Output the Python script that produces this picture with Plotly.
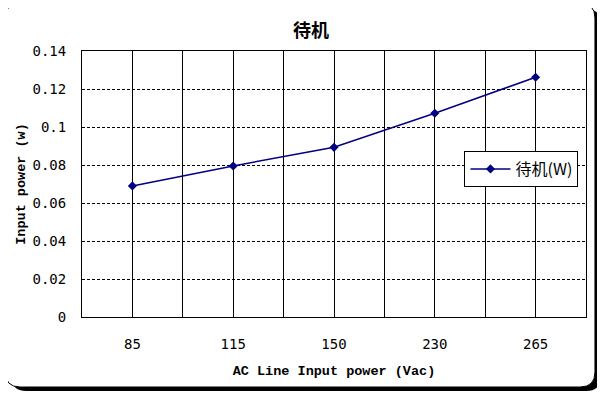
import plotly.graph_objects as go

# ---- data ----
categories = ["85", "115", "150", "230", "265"]
standby_w = [0.069, 0.0795, 0.0893, 0.1072, 0.1262]
series_name = "待机(W)"
chart_title = "待机"
x_title = "AC Line Input power (Vac)"
y_title = "Input power (w)"
y_ticks = [0, 0.02, 0.04, 0.06, 0.08, 0.1, 0.12, 0.14]

OFF = 8  # default body margin of the page
W, H = 605, 393
L, R, T, B = 80, 586, 51, 317
PW, PH = R - L, B - T


def px(x):
    return (x - L) / PW


def py(y):
    return (B - y) / PH


def rrect(x0, y0, x1, y1, r):
    return (
        f"M {px(x0 + r)},{py(y0)} L {px(x1 - r)},{py(y0)} "
        f"Q {px(x1)},{py(y0)} {px(x1)},{py(y0 + r)} "
        f"L {px(x1)},{py(y1 - r)} Q {px(x1)},{py(y1)} {px(x1 - r)},{py(y1)} "
        f"L {px(x0 + r)},{py(y1)} Q {px(x0)},{py(y1)} {px(x0)},{py(y1 - r)} "
        f"L {px(x0)},{py(y0 + r)} Q {px(x0)},{py(y0)} {px(x0 + r)},{py(y0)} Z"
    )


idx = list(range(len(categories)))

fig = go.Figure()
fig.add_trace(go.Scatter(
    x=idx, y=standby_w, mode="lines+markers", name=series_name,
    line=dict(color="#000080", width=1.5),
    marker=dict(symbol="diamond", size=7, color="#000080"),
))

mono = "Liberation Mono, DejaVu Sans Mono, monospace"
tickfont = dict(family="DejaVu Sans Mono, monospace", size=14, color="black")

fig.update_layout(
    width=W - OFF, height=H - OFF,
    margin=dict(l=L - OFF, r=W - R, t=T - OFF, b=H - B, pad=0),
    paper_bgcolor="white", plot_bgcolor="white",
    showlegend=True,
    title=dict(text=f"<b>{chart_title}</b>", x=px(310), xref="paper", xanchor="center",
               y=1 - (31 - OFF) / (H - OFF), yref="container", yanchor="middle",
               font=dict(family="Noto Sans CJK SC", size=18, color="black")),
    legend=dict(x=px(464), y=py(151), xanchor="left", yanchor="top",
                bgcolor="white", bordercolor="black", borderwidth=1,
                font=dict(family="Noto Sans CJK SC", size=16, color="black"),
                itemwidth=40),
    shapes=[
        dict(type="path", xref="paper", yref="paper", path=rrect(9, 9, 601, 391, 15),
             fillcolor="black", line=dict(width=0), layer="below"),
        dict(type="path", xref="paper", yref="paper", path=rrect(3, 3, 595, 387, 15),
             fillcolor="white", line=dict(color="black", width=1), layer="below"),
    ],
)

fig.update_xaxes(
    range=[-0.5, len(categories) - 0.5],
    tickmode="array", tickvals=idx, ticktext=categories,
    showgrid=True, gridcolor="black", gridwidth=1,
    minor=dict(tick0=-0.5, dtick=1, showgrid=True, gridcolor="black", gridwidth=1),
    showline=True, linecolor="black", linewidth=1, mirror=True,
    ticks="", tickfont=tickfont, ticklabelstandoff=14,
    zeroline=False,
    title=dict(text=f"<b>{x_title}</b>", font=dict(family=mono, size=13.5, color="black"), standoff=14),
)
fig.update_yaxes(
    range=[0, 0.14], tickmode="array", tickvals=y_ticks,
    showgrid=True, gridcolor="black", gridwidth=1, griddash="3px,2px",
    showline=True, linecolor="black", linewidth=1, mirror=True,
    ticks="", tickfont=tickfont, ticklabelstandoff=12,
    zeroline=False,
    title=dict(text=f"<b>{y_title}</b>", font=dict(family=mono, size=13.5, color="black"), standoff=3),
)

fig.write_html("out.html")
